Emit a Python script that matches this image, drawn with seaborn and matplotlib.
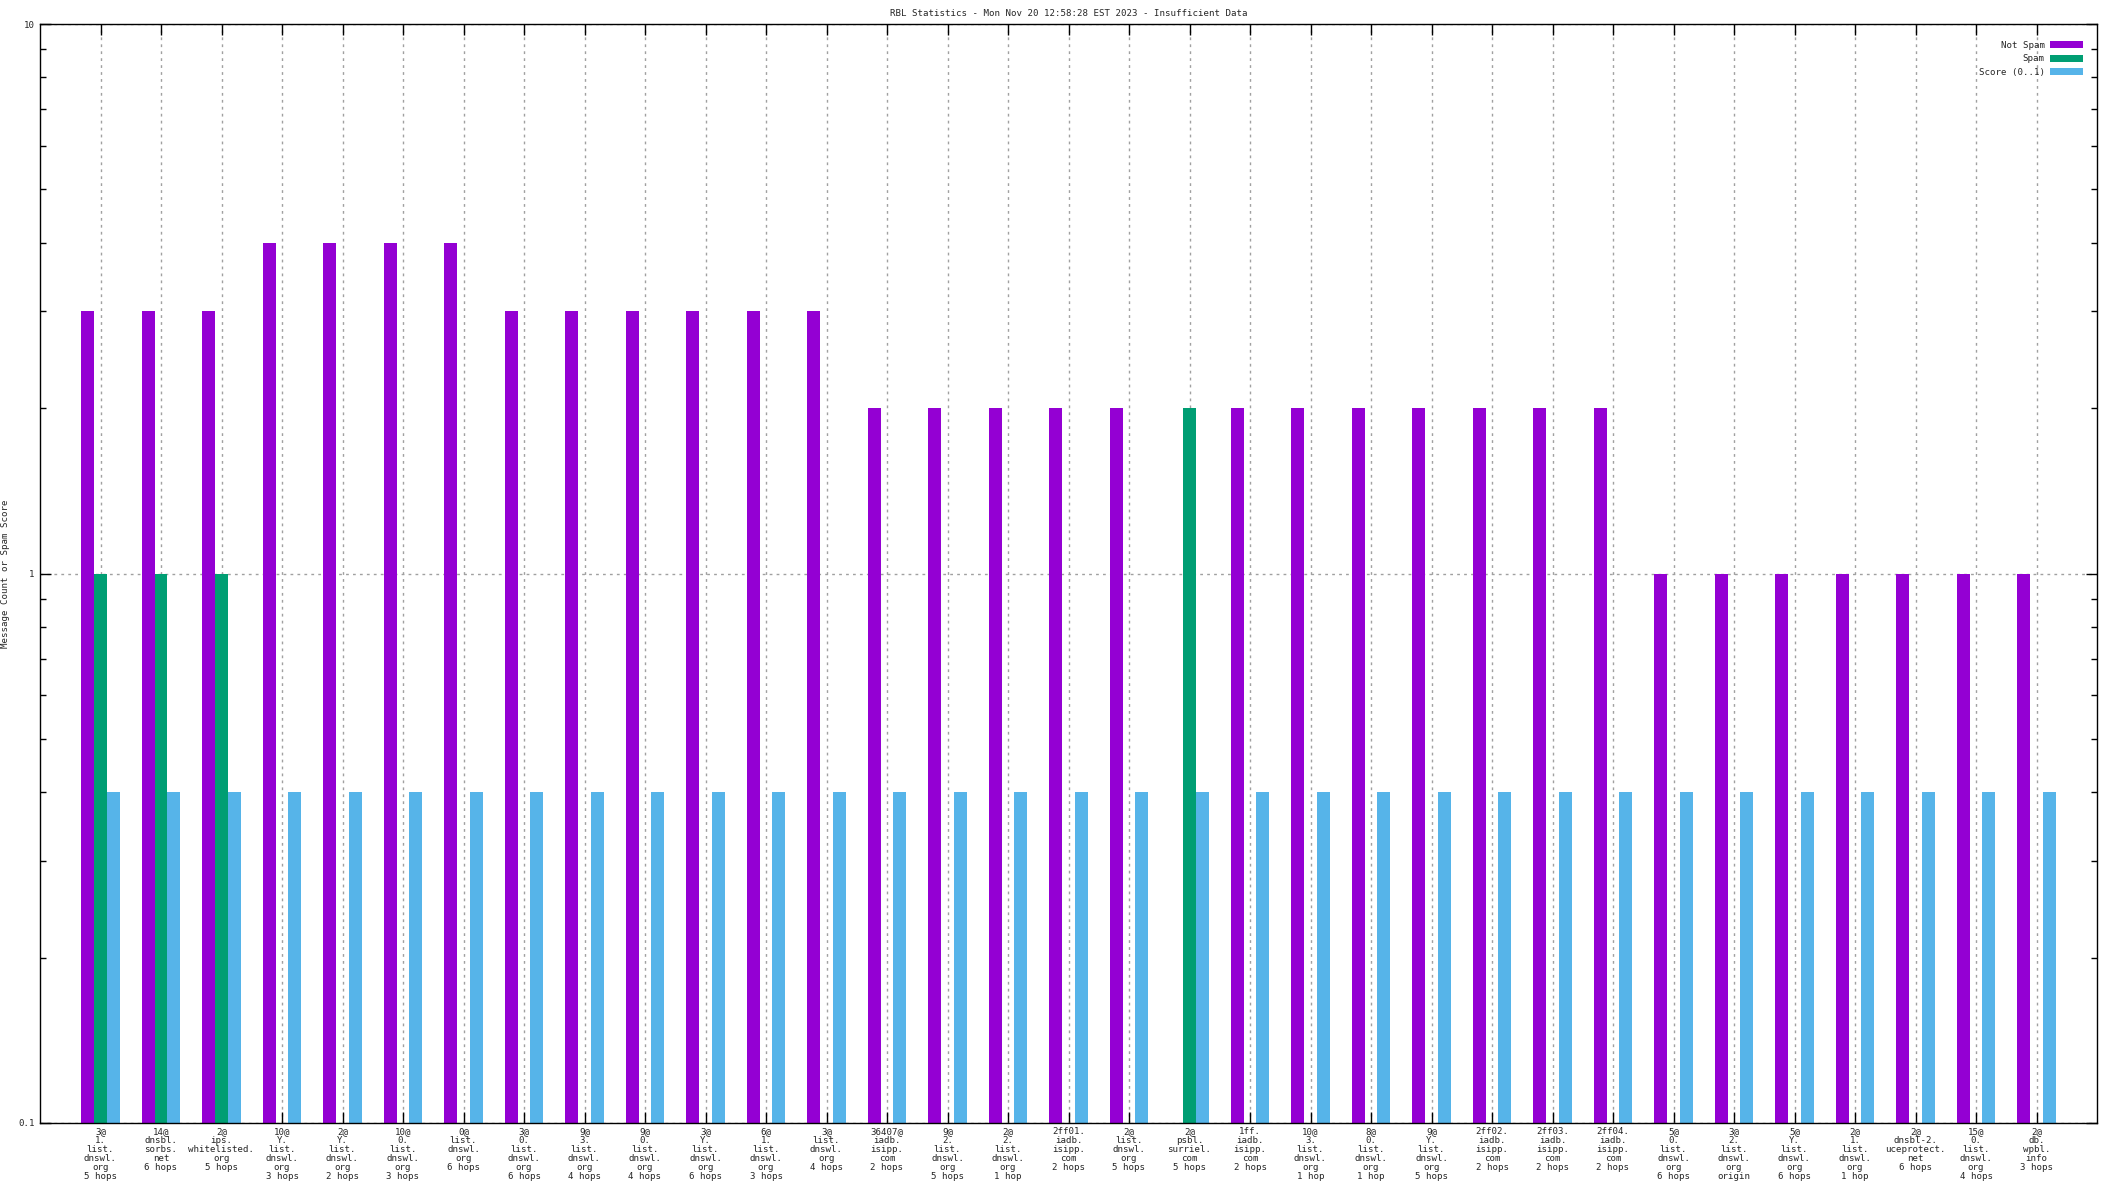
import numpy as np
import pandas as pd
import seaborn as sns
import matplotlib
matplotlib.use("Agg")
import matplotlib.pyplot as plt
from matplotlib.patches import Patch
from matplotlib.ticker import FixedLocator, LogLocator, NullFormatter

# x categories (one per relay/list hit)
labels = [
    "3@\n1.\nlist.\ndnswl.\norg\n5 hops",
    "14@\ndnsbl.\nsorbs.\nnet\n6 hops",
    "2@\nips.\nwhitelisted.\norg\n5 hops",
    "10@\nY.\nlist.\ndnswl.\norg\n3 hops",
    "2@\nY.\nlist.\ndnswl.\norg\n2 hops",
    "10@\n0.\nlist.\ndnswl.\norg\n3 hops",
    "0@\nlist.\ndnswl.\norg\n6 hops",
    "3@\n0.\nlist.\ndnswl.\norg\n6 hops",
    "9@\n3.\nlist.\ndnswl.\norg\n4 hops",
    "9@\n0.\nlist.\ndnswl.\norg\n4 hops",
    "3@\nY.\nlist.\ndnswl.\norg\n6 hops",
    "6@\n1.\nlist.\ndnswl.\norg\n3 hops",
    "3@\nlist.\ndnswl.\norg\n4 hops",
    "36407@\niadb.\nisipp.\ncom\n2 hops",
    "9@\n2.\nlist.\ndnswl.\norg\n5 hops",
    "2@\n2.\nlist.\ndnswl.\norg\n1 hop",
    "2ff01.\niadb.\nisipp.\ncom\n2 hops",
    "2@\nlist.\ndnswl.\norg\n5 hops",
    "2@\npsbl.\nsurriel.\ncom\n5 hops",
    "1ff.\niadb.\nisipp.\ncom\n2 hops",
    "10@\n3.\nlist.\ndnswl.\norg\n1 hop",
    "8@\n0.\nlist.\ndnswl.\norg\n1 hop",
    "9@\nY.\nlist.\ndnswl.\norg\n5 hops",
    "2ff02.\niadb.\nisipp.\ncom\n2 hops",
    "2ff03.\niadb.\nisipp.\ncom\n2 hops",
    "2ff04.\niadb.\nisipp.\ncom\n2 hops",
    "5@\n0.\nlist.\ndnswl.\norg\n6 hops",
    "3@\n2.\nlist.\ndnswl.\norg\norigin",
    "5@\nY.\nlist.\ndnswl.\norg\n6 hops",
    "2@\n1.\nlist.\ndnswl.\norg\n1 hop",
    "2@\ndnsbl-2.\nuceprotect.\nnet\n6 hops",
    "15@\n0.\nlist.\ndnswl.\norg\n4 hops",
    "2@\ndb.\nwpbl.\ninfo\n3 hops",
]

nan = np.nan
not_spam = [3, 3, 3, 4, 4, 4, 4, 3, 3, 3, 3, 3, 3, 2, 2, 2, 2, 2, nan, 2,
            2, 2, 2, 2, 2, 2, 1, 1, 1, 1, 1, 1, 1]
spam = [1, 1, 1] + [nan] * 15 + [2] + [nan] * 14
score = [0.4] * 33

series = ["Not Spam", "Spam", "Score (0..1)"]
colors = ["#9400d3", "#009e73", "#56b4e9"]

rows = []
for name, vals in zip(series, [not_spam, spam, score]):
    for lab, v in zip(labels, vals):
        rows.append({"rbl": lab, "kind": name, "value": v})
df = pd.DataFrame(rows)

sns.set_style("ticks")
plt.rcParams["font.family"] = ["DejaVu Sans Mono"]
fs = 6.6
plt.rcParams["font.size"] = fs

fig = plt.figure(figsize=(21.12, 11.88), dpi=100)
ax = fig.add_axes([40 / 2112, 1 - 1123 / 1188, 2057 / 2112, 1099 / 1188])

sns.barplot(data=df, x="rbl", y="value", hue="kind", order=labels,
            hue_order=series, palette=dict(zip(series, colors)),
            width=0.63, errorbar=None, saturation=1, linewidth=0,
            edgecolor="none", legend=False, ax=ax)

ax.set_yscale("log")
ax.set_ylim(0.1, 10)
ax.set_xlim(-1, 33)
ax.yaxis.set_major_locator(FixedLocator([0.1, 1, 10]))
ax.set_yticklabels(["0.1", "1", "10"])
ax.yaxis.set_minor_locator(LogLocator(base=10, subs=np.arange(2, 10)))
ax.yaxis.set_minor_formatter(NullFormatter())

ax.tick_params(which="both", direction="in", top=True, right=True,
               color="black", labelsize=fs)
ax.tick_params(which="major", length=8, width=1)
ax.tick_params(which="minor", length=4, width=1)
ax.tick_params(axis="x", pad=3)
ax.tick_params(axis="y", pad=4)
for t in ax.get_xticklabels():
    t.set_linespacing(1.0)

ax.grid(True, which="major", color="#a0a0a0", linestyle=(0, (2, 3)), linewidth=1)
for s in ax.spines.values():
    s.set_color("black")
    s.set_linewidth(1)
    s.set_visible(True)

ax.set_xlabel("")
ax.set_ylabel("Message Count or Spam Score", fontsize=fs)
ax.yaxis.set_label_coords(-0.0146, 0.5)
ax.set_title("RBL Statistics - Mon Nov 20 12:58:28 EST 2023 - Insufficient Data",
             fontsize=fs, pad=6)

handles = [Patch(facecolor=c, edgecolor="none") for c in colors]
ax.legend(handles, series, loc="upper right", bbox_to_anchor=(0.995, 0.988),
          frameon=False, markerfirst=False, handlelength=3.6,
          handleheight=0.8, handletextpad=0.6, labelspacing=0.5,
          fontsize=fs, borderaxespad=0)

fig.savefig("out.png", dpi=100)
